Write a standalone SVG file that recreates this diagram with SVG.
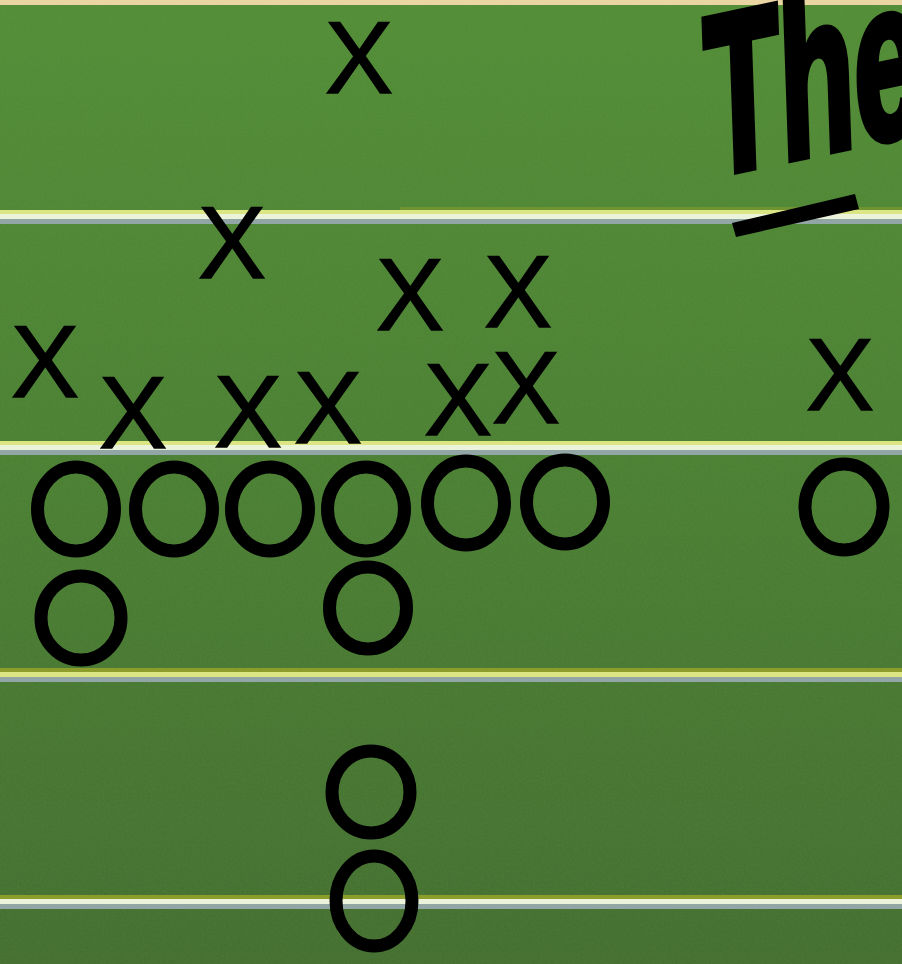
<svg xmlns="http://www.w3.org/2000/svg" width="902" height="964" viewBox="0 0 902 964">
<defs>
<linearGradient id="turf" x1="0" y1="0" x2="0" y2="1">
<stop offset="0" stop-color="#538e36"/>
<stop offset="0.5" stop-color="#4b8033"/>
<stop offset="1" stop-color="#446f30"/>
</linearGradient>
<filter id="grain" x="0" y="0" width="100%" height="100%">
<feTurbulence type="fractalNoise" baseFrequency="0.45" numOctaves="2" seed="3" result="n"/>
<feColorMatrix in="n" type="matrix" values="0 0 0 0 0.2  0 0 0 0 0.35  0 0 0 0 0.15  0 0 0 0.5 -0.1"/>
</filter>
</defs>
<style>
.x{font-family:"Liberation Sans",Arial,sans-serif;font-size:102px;fill:#000;stroke:#000;stroke-width:1.5;text-anchor:middle}
.o{fill:none;stroke:#000;stroke-width:13}
.yl{fill:#dbe584}
.wh{fill:#ebf3da}
.gr{fill:#92a7a5}
.ol{fill:#8c9d2c}
</style>
<rect width="902" height="964" fill="url(#turf)"/>
<rect width="902" height="964" filter="url(#grain)" opacity="0.35"/>
<rect x="0" y="0" width="902" height="5" fill="#e9d6a2"/>
<g id="yard-lines">
<rect class="ol" x="400" y="207" width="502" height="3" opacity="0.5"/>
<rect class="yl" x="0" y="210" width="902" height="4"/>
<rect class="wh" x="0" y="214" width="902" height="5"/>
<rect class="gr" x="0" y="219" width="902" height="5"/>
<rect class="yl" x="0" y="441" width="902" height="4"/>
<rect class="wh" x="0" y="445" width="902" height="5"/>
<rect class="gr" x="0" y="450" width="902" height="5"/>
<rect class="ol" x="0" y="668" width="902" height="4"/>
<rect class="yl" x="0" y="672" width="902" height="5"/>
<rect class="gr" x="0" y="677" width="902" height="5"/>
<rect class="ol" x="0" y="895" width="902" height="4"/>
<rect class="wh" x="0" y="899" width="902" height="5"/>
<rect class="gr" x="0" y="904" width="902" height="5"/>
</g>
<g id="title">
<text x="0" y="0" transform="translate(708,176) rotate(-12) skewX(-10) scale(0.56,1)" font-family="Liberation Sans,Arial,sans-serif" font-weight="bold" font-size="222" fill="#000" stroke="#000" stroke-width="9" stroke-linejoin="miter">The</text>
<polygon points="732,223 855,194 859,209 736,237" fill="#000"/>
</g>
<g id="defense">
<g id="x1"><text class="x" x="359" y="93">X</text></g>
<g id="x2"><text class="x" x="232" y="278">X</text></g>
<g id="x3"><text class="x" x="410" y="330">X</text></g>
<g id="x4"><text class="x" x="518" y="327">X</text></g>
<g id="x5"><text class="x" x="45" y="397">X</text></g>
<g id="x6"><text class="x" x="133" y="448">X</text></g>
<g id="x7"><text class="x" x="248" y="447">X</text></g>
<g id="x8"><text class="x" x="328" y="443">X</text></g>
<g id="x9"><text class="x" x="458" y="435">X</text></g>
<g id="x10"><text class="x" x="526" y="423">X</text></g>
<g id="x11"><text class="x" x="840" y="410">X</text></g>
</g>
<g id="offense">
<g id="o1"><ellipse class="o" cx="76" cy="509" rx="38.5" ry="42"/></g>
<g id="o2"><ellipse class="o" cx="174" cy="509" rx="38.5" ry="42"/></g>
<g id="o3"><ellipse class="o" cx="270" cy="509" rx="38.5" ry="42"/></g>
<g id="o4"><ellipse class="o" cx="366" cy="509" rx="38.5" ry="42"/></g>
<g id="o5"><ellipse class="o" cx="466" cy="503" rx="38.5" ry="42"/></g>
<g id="o6"><ellipse class="o" cx="565" cy="502" rx="38.5" ry="42"/></g>
<g id="o7"><ellipse class="o" cx="844" cy="507" rx="39" ry="43"/></g>
<g id="o8"><ellipse class="o" cx="81" cy="618" rx="40" ry="42"/></g>
<g id="o9"><ellipse class="o" cx="368" cy="608" rx="38.5" ry="41"/></g>
<g id="o10"><ellipse class="o" cx="371" cy="792" rx="39" ry="41"/></g>
<g id="o11"><ellipse class="o" cx="374" cy="901" rx="38" ry="45"/></g>
</g>
</svg>
